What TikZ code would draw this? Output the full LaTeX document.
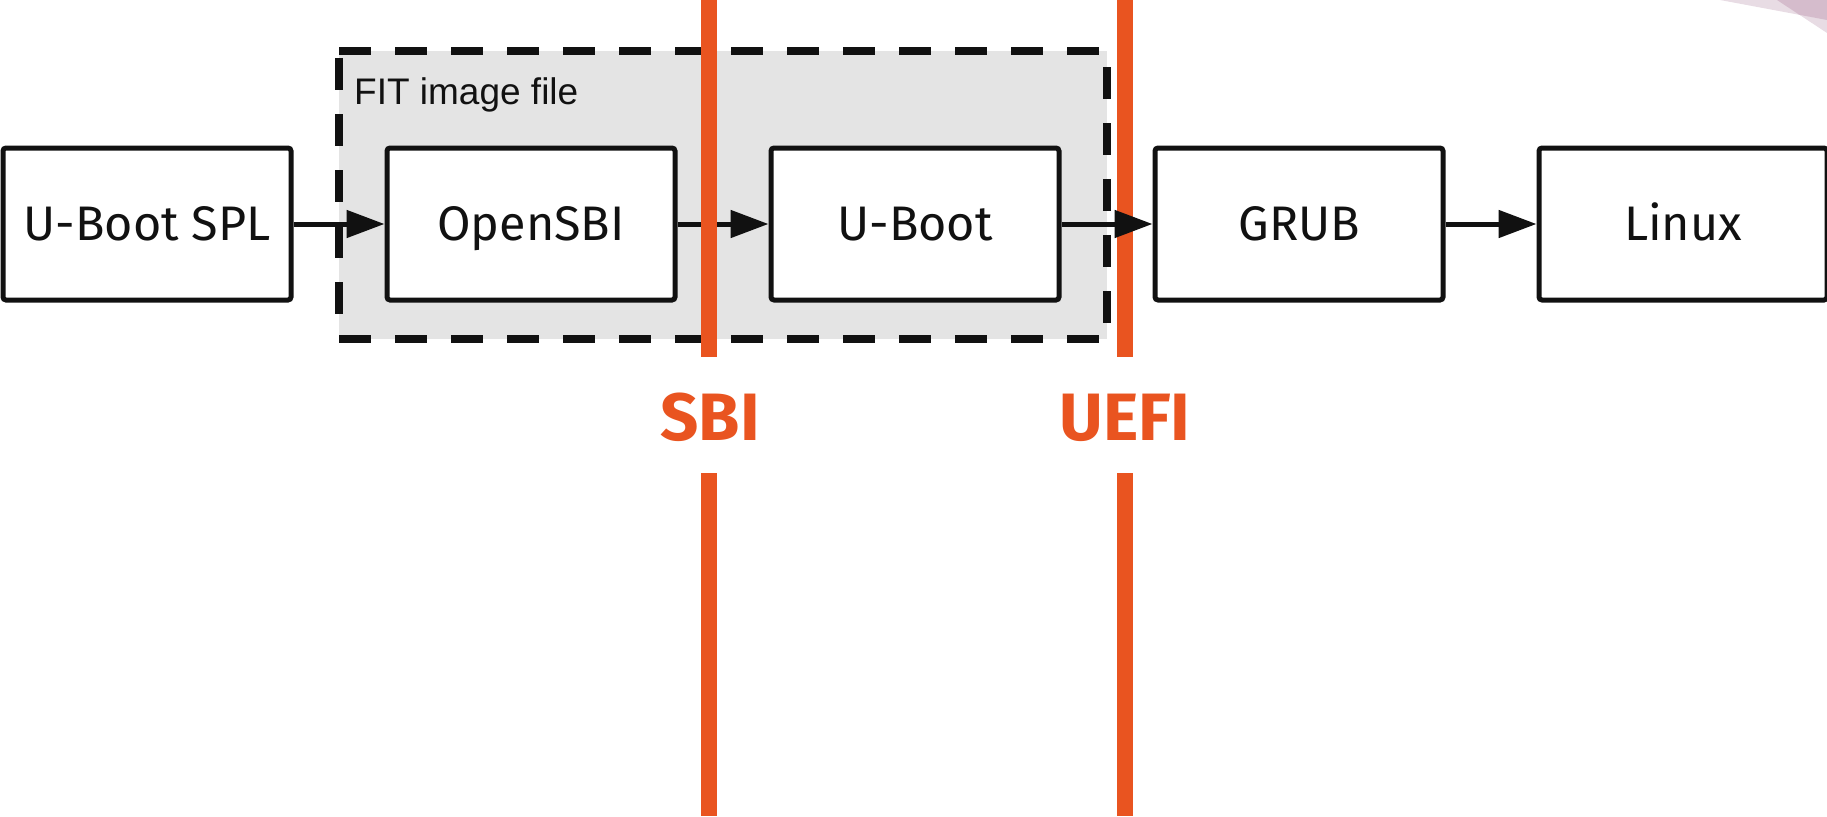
\documentclass[tikz,border=0pt]{standalone}
\usepackage{fontspec}
\usetikzlibrary{arrows.meta}
\newfontfamily\boxfont{Fira Sans}
\newfontfamily\arialfont{Liberation Sans}
\definecolor{ubOrange}{HTML}{E95420}
\definecolor{fitGray}{HTML}{E4E4E4}
\definecolor{inkBlack}{HTML}{111111}
\definecolor{mauveLight}{HTML}{E8DCE4}
\definecolor{mauveDark}{HTML}{D5BCCC}
\tikzset{
  stage/.style={draw=inkBlack, line width=5pt, fill=white, rounded corners=3pt,
    minimum width=288pt, minimum height=152pt, inner sep=0pt,
    text height=33.5pt, text depth=0pt,
    font=\boxfont\fontsize{48.5}{58}\selectfont, text=inkBlack},
  flow/.style={draw=inkBlack, line width=5pt, -{Triangle[length=38pt,width=27pt]}},
  dashside/.style={draw=inkBlack, line width=8pt, dash pattern=on 32pt off 24pt},
  iface/.style={draw=ubOrange, line width=16pt},
  ifacelabel/.style={text=ubOrange, font=\boxfont\bfseries\fontsize{67}{80}\selectfont, inner sep=0pt}
}
\begin{document}
\begin{tikzpicture}[x=1pt,y=-1pt]
\useasboundingbox (0,0) rectangle (1827,816);
% decorative corner shapes
\fill[mauveLight] (1720,0) -- (1827,20) -- (1827,0) -- cycle;
\fill[mauveLight] (1777,0) -- (1827,33) -- (1827,0) -- cycle;
\fill[mauveDark] (1777,0) -- (1799.4,14.8) -- (1827,20) -- (1827,0) -- cycle;
% FIT image region
\node[fill=fitGray, minimum width=768pt, minimum height=288pt, inner sep=0pt] (fit) at (723,195) {};
\draw[dashside] (339,51) -- (1107,51);
\draw[dashside] (339,339) -- (1107,339);
\draw[dashside] (339,58) -- (339,330);
\draw[dashside] (1107,67) -- (1107,339);
\node[anchor=base west, inner sep=0pt, font=\arialfont\fontsize{37}{44}\selectfont, text=inkBlack] (fitlabel) at (354,104) {FIT image file};
% stages
\node[stage] (spl) at (147,224) {U-Boot SPL};
\node[stage] (osbi) at (531,224) {OpenSBI};
\node[stage] (uboot) at (915,224) {U-Boot};
\node[stage] (grub) at (1299,224) {GRUB};
\node[stage] (linux) at (1683,224) {Linux};
\draw[flow] (spl) -- (osbi);
\draw[flow] (osbi) -- (uboot);
% interface lines
\coordinate (sbitop) at (709,0);
\coordinate (sbimid) at (709,357);
\coordinate (sbilow) at (709,473);
\coordinate (sbibot) at (709,816);
\coordinate (uefitop) at (1125,0);
\coordinate (uefimid) at (1125,357);
\coordinate (uefilow) at (1125,473);
\coordinate (uefibot) at (1125,816);
\draw[iface] (sbitop) -- (sbimid);
\draw[iface] (sbilow) -- (sbibot);
\draw[iface] (uefitop) -- (uefimid);
\draw[iface] (uefilow) -- (uefibot);
\node[ifacelabel, anchor=base] (sbi) at (710,440) {SBI};
\node[ifacelabel, anchor=base] (uefi) at (1125,440) {UEFI};
\draw[flow] (uboot) -- (grub);
\draw[flow] (grub) -- (linux);
\end{tikzpicture}
\end{document}
